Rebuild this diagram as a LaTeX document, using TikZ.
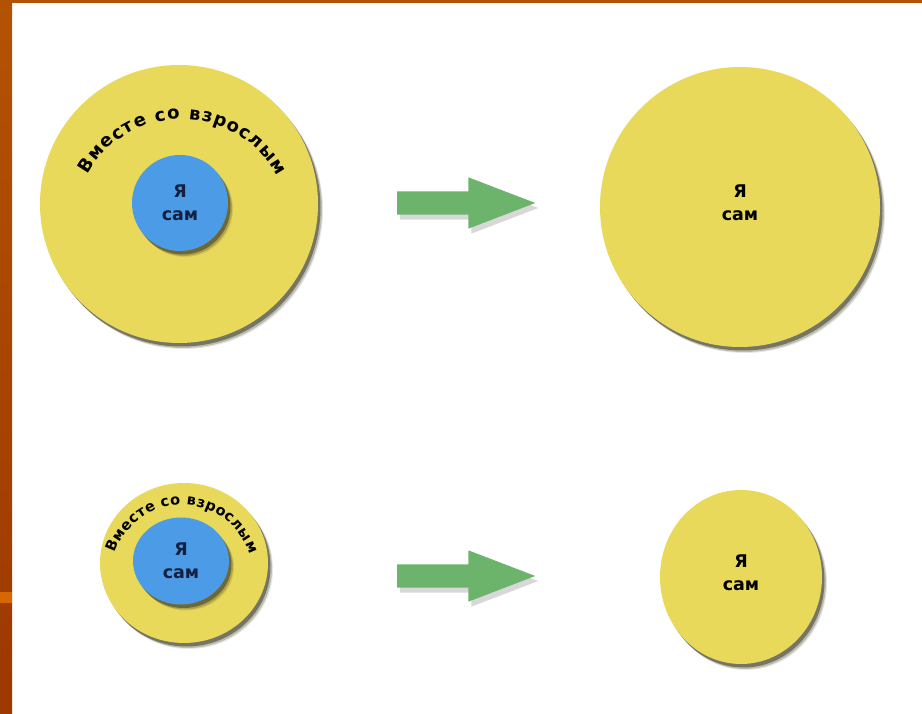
\documentclass[tikz,border=0pt]{standalone}
\usepackage{tikz}
\usepackage{fontspec}
\setmainfont{DejaVu Sans}
\usetikzlibrary{positioning,shapes.geometric,shapes.arrows,shadows}
\usetikzlibrary{decorations.text}

\definecolor{discyellow}{HTML}{E8D95B}
\definecolor{discblue}{HTML}{4C9BE6}
\definecolor{arrowgreen}{HTML}{6CB46C}
\definecolor{slideorange}{HTML}{B45204}
\definecolor{slidedark}{HTML}{9C3800}
\definecolor{inkblue}{HTML}{14203F}
\definecolor{shadowolive}{HTML}{3E3A22}

\newcommand{\labelfont}{\bfseries\fontsize{17.5}{23.5}\selectfont}
\newcommand{\arcfont}{\bfseries\fontsize{18}{20}\selectfont}
\newcommand{\smallarcfont}{\bfseries\fontsize{14.5}{16}\selectfont}

\tikzset{
	soft/.style={
		drop shadow={shadow xshift=5pt, shadow yshift=-6pt, opacity=0.12, fill=shadowolive},
		drop shadow={shadow xshift=4pt, shadow yshift=-5pt, opacity=0.25, fill=shadowolive},
		drop shadow={shadow xshift=2.5pt, shadow yshift=-3.5pt, opacity=0.55, fill=shadowolive}},
	disc/.style={ellipse, fill=discyellow, inner sep=0pt, soft},
	core/.style={ellipse, fill=discblue, inner sep=0pt, soft},
	bigarrow/.style={single arrow, fill=arrowgreen, inner xsep=0pt, inner ysep=11.5pt, minimum height=138pt,
		single arrow head extend=14pt, single arrow tip angle=42,
		drop shadow={shadow xshift=3pt, shadow yshift=-5pt, opacity=0.3}},
	caption/.style={align=center, font=\labelfont, text=black},
	arctext/.style={decorate, decoration={text along path, text align={fit to path}, text={|#1|Вместе со взрослым}}}
}

\begin{document}
\begin{tikzpicture}[x=1pt, y=1pt, on grid, node distance=1cm]
	\useasboundingbox (0,0) rectangle (922,714);
	\fill [white] (0,0) rectangle (922,714);
	\shade [top color=slideorange, bottom color=slidedark] (0,0) rectangle (12,714);
	\fill [slideorange] (0,711) rectangle (922,714);
	\fill [orange!45!slideorange] (0,111) rectangle (12,122);

	\node	(outerA)	[disc, minimum size=278pt]	at (179,510)	{};
	\coordinate	(hubA)	at (182,487);
	\path [arctext=\arcfont] ([shift={(151:108pt)}]hubA) arc [start angle=151, end angle=28, radius=108pt];
	\node	(innerA)	[core, minimum size=96pt, caption, text=inkblue]	at (180,511)	{Я\\сам};
	\node	(arrowA)	[bigarrow, right=272pt of outerA, yshift=1pt]		{};
	\node	(soloA)	[disc, minimum size=280pt, right=561pt of outerA, yshift=-3pt]	{};
	\node	(selfA)	[caption, yshift=4pt]	at (soloA)	{Я\\сам};

	\node	(outerB)	[disc, minimum width=168pt, minimum height=160pt, below=359pt of outerA, xshift=5pt]	{};
	\coordinate	(hubB)	at (182,138);
	\path [arctext=\smallarcfont] ([shift={(161:71pt)}]hubB) arc [start angle=161, end angle=18, radius=71pt];
	\node	(innerB)	[core, minimum width=96pt, minimum height=87pt, caption, text=inkblue]	at (181,153)	{Я\\сам};
	\node	(arrowB)	[bigarrow, below=373pt of arrowA]		{};
	\node	(soloB)	[disc, minimum width=162pt, minimum height=174pt, right=557pt of outerB, yshift=-14pt]	{};
	\node	(selfB)	[caption, yshift=4pt]	at (soloB)	{Я\\сам};
\end{tikzpicture}
\end{document}
